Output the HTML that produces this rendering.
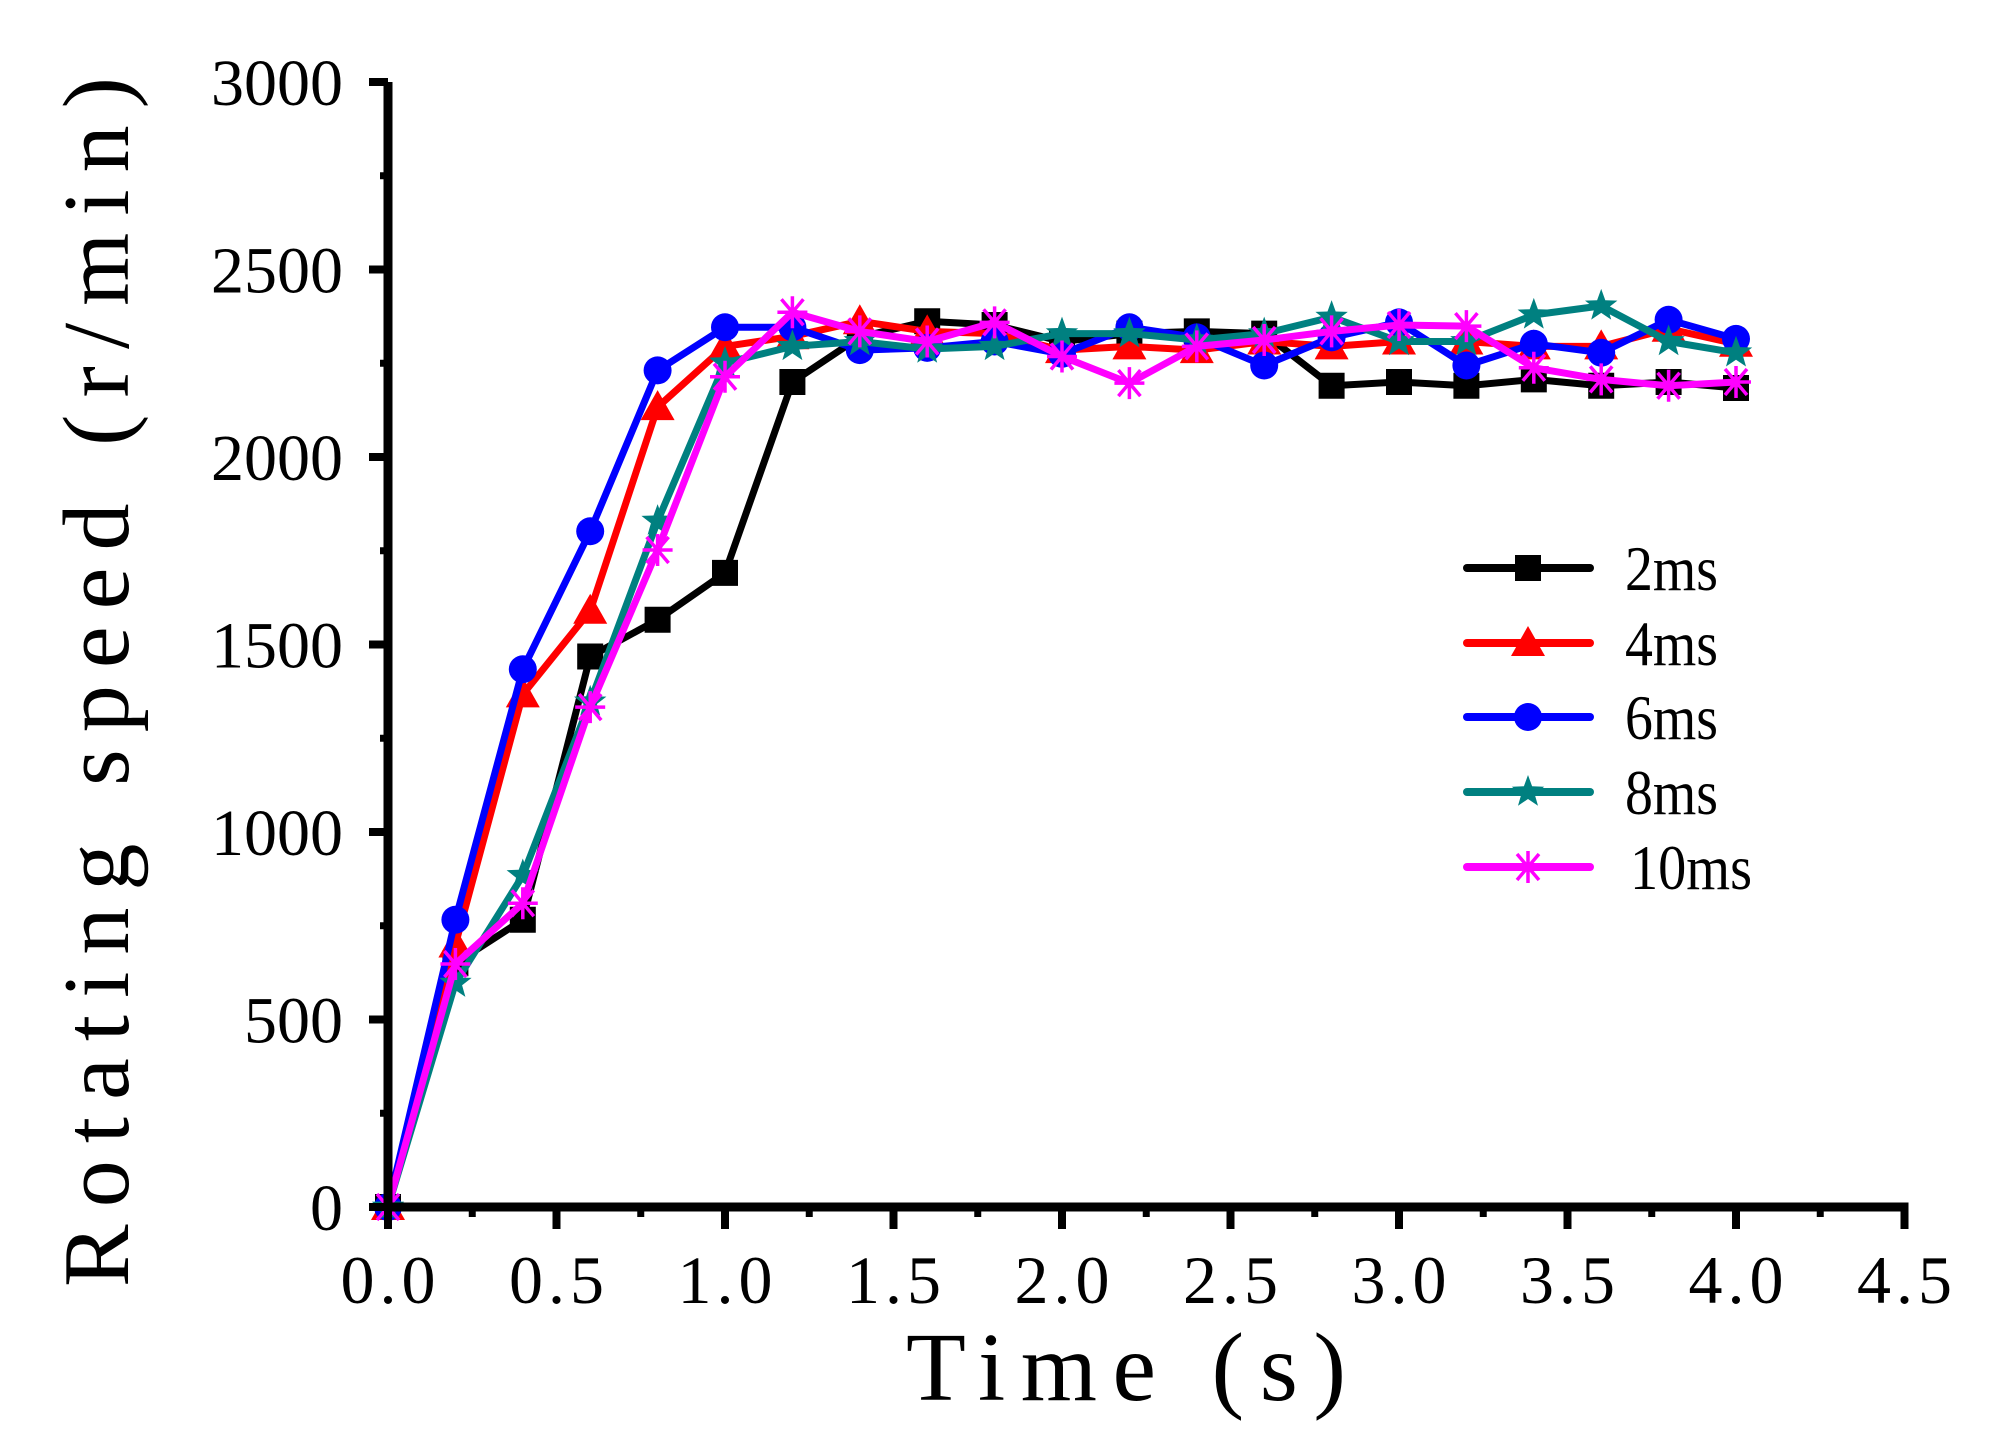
<!DOCTYPE html>
<html><head><meta charset="utf-8"><style>
html,body{margin:0;padding:0;background:#fff}
svg{display:block}
text{font-family:"Liberation Serif",serif;fill:#000}
</style></head><body>
<svg id="chart" width="1990" height="1433" viewBox="0 0 1990 1433" xmlns="http://www.w3.org/2000/svg">
<g id="series"></g>
<g id="axes"></g>
<g id="legend"></g>
<text transform="translate(128,682) rotate(-90)" text-anchor="middle" font-size="94" textLength="1210" lengthAdjust="spacing">Rotating speed (r/min)</text>
<text x="1126" y="1400" text-anchor="middle" font-size="98" textLength="440" lengthAdjust="spacing">Time (s)</text>
</svg>
<script>
const times = [0,0.2,0.4,0.6,0.8,1.0,1.2,1.4,1.6,1.8,2.0,2.2,2.4,2.6,2.8,3.0,3.2,3.4,3.6,3.8,4.0];
const s2ms = [0,650,766,1468,1566,1691,2200,2320,2362,2352,2308,2329,2335,2329,2190,2200,2190,2207,2190,2200,2184];
const s4ms = [0,700,1367,1590,2133,2295,2322,2362,2335,2329,2285,2295,2285,2308,2295,2308,2308,2295,2295,2342,2302];
const s6ms = [0,766,1434,1802,2231,2346,2346,2285,2291,2308,2275,2346,2319,2244,2319,2359,2244,2302,2278,2366,2315];
const s8ms = [0,597,884,1347,1829,2251,2295,2308,2288,2295,2329,2329,2312,2329,2373,2308,2308,2379,2403,2308,2278];
const s10ms = [0,648,810,1333,1752,2214,2386,2335,2308,2359,2268,2197,2295,2312,2335,2352,2349,2238,2207,2190,2200];
const seriesNames = ["2ms","4ms","6ms","8ms","10ms"];
const xTicks = [0,0.5,1.0,1.5,2.0,2.5,3.0,3.5,4.0,4.5];
const xTickLabels = ["0.0","0.5","1.0","1.5","2.0","2.5","3.0","3.5","4.0","4.5"];
const yTicks = [0,500,1000,1500,2000,2500,3000];
const yTickLabels = ["0","500","1000","1500","2000","2500","3000"];

const NS="http://www.w3.org/2000/svg";
const X0=388, XS=337, Y0=1207, YS=0.375;
function xp(t){return X0+t*XS;}
function yp(v){return Y0-v*YS;}
function mk(tag,attrs,parent){const e=document.createElementNS(NS,tag);for(const k in attrs)e.setAttribute(k,attrs[k]);parent.appendChild(e);return e;}

const cfg=[
 {data:s2ms,color:"#000000",m:"square"},
 {data:s4ms,color:"#ff0000",m:"triangle"},
 {data:s6ms,color:"#0000ff",m:"circle"},
 {data:s8ms,color:"#008080",m:"star"},
 {data:s10ms,color:"#ff00ff",m:"asterisk"}];

function marker(g,type,x,y,c){
 let e;
 if(type==="square"){e=mk("rect",{x:x-13,y:y-13,width:26,height:26,fill:c},g);}
 else if(type==="triangle"){e=mk("polygon",{points:`${x},${y-17} ${x-17},${y+13} ${x+17},${y+13}`,fill:c},g);}
 else if(type==="circle"){e=mk("circle",{cx:x,cy:y,r:14,fill:c},g);}
 else if(type==="star"){let p=[];for(let i=0;i<10;i++){const r=i%2?7:17;const a=-Math.PI/2+i*Math.PI/5;p.push((x+r*Math.cos(a)).toFixed(1)+","+(y+r*Math.sin(a)).toFixed(1));}e=mk("polygon",{points:p.join(" "),fill:c},g);}
 else {e=mk("path",{d:`M${x-15},${y}H${x+15}M${x},${y-16}V${y+16}M${x-11},${y-13}L${x+11},${y+13}M${x-11},${y+13}L${x+11},${y-13}`,stroke:c,"stroke-width":3.5,fill:"none"},g);}
 return e;
}

const sg=document.getElementById("series");
cfg.forEach((s,i)=>{
 const g=mk("g",{},sg);
 
 
 const pts=times.map((t,j)=>xp(t).toFixed(1)+","+yp(s.data[j]).toFixed(1)).join(" ");
 const l=mk("polyline",{points:pts,fill:"none",stroke:s.color,"stroke-width":7,"stroke-linejoin":"round"},g);
 
 
 times.forEach((t,j)=>{
  const m=marker(g,s.m,xp(t),yp(s.data[j]),s.color);
  
  
 });
});

const ag=document.getElementById("axes");
const ya=mk("line",{x1:X0,y1:yp(3000),x2:X0,y2:Y0+4,stroke:"#000","stroke-width":9},ag);


const xa=mk("line",{x1:X0-4,y1:Y0,x2:xp(4.5)+4,y2:Y0,stroke:"#000","stroke-width":9},ag);


yTicks.forEach((v,i)=>{
 const t=mk("line",{x1:X0-19,y1:yp(v),x2:X0,y2:yp(v),stroke:"#000","stroke-width":8},ag);
 
 
 if(i<yTicks.length-1){const mt=mk("line",{x1:X0-8,y1:yp(v+250),x2:X0,y2:yp(v+250),stroke:"#000","stroke-width":7},ag);
 
 }
 const lb=mk("text",{x:343,y:yp(v)+23,"text-anchor":"end","font-size":66},ag);
 lb.textContent=yTickLabels[i];
 
 
});
xTicks.forEach((v,i)=>{
 const t=mk("line",{x1:xp(v),y1:Y0,x2:xp(v),y2:1229,stroke:"#000","stroke-width":8},ag);
 
 
 if(i<xTicks.length-1){const mt=mk("line",{x1:xp(v+0.25),y1:Y0,x2:xp(v+0.25),y2:1217,stroke:"#000","stroke-width":7},ag);
 
 }
 const lb=mk("text",{x:xp(v),y:1303,"text-anchor":"middle","font-size":68,textLength:95,lengthAdjust:"spacing"},ag);
 lb.textContent=xTickLabels[i];
 
 
});

const lg=document.getElementById("legend");
const legY=[568,643,717,792,867];
const legW=[93,93,93,93,122];
cfg.forEach((s,i)=>{
 const g=mk("g",{},lg);
 
 
 mk("line",{x1:1467,y1:legY[i],x2:1590,y2:legY[i],stroke:s.color,"stroke-width":8,"stroke-linecap":"round"},g);
 marker(g,s.m,1528,legY[i],s.color);
 const tx=mk("text",{x:i===4?1630:1625,y:legY[i]+22,"font-size":64,textLength:legW[i],lengthAdjust:"spacingAndGlyphs"},g);
 tx.textContent=seriesNames[i];
});
</script>
</body></html>
